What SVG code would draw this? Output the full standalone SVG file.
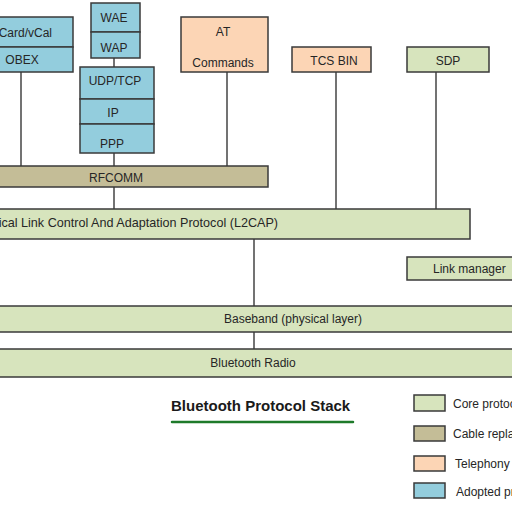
<svg xmlns="http://www.w3.org/2000/svg" width="512" height="512" viewBox="0 0 512 512">
<style>
.b{stroke:#3a3a3a;stroke-width:1.5}
.core{fill:#d7e4bd}.cable{fill:#c4bd97}.tel{fill:#fcd5b5}.adp{fill:#93cddd}
text{font-family:"Liberation Sans",Arial,sans-serif;font-size:12px;fill:#262626}
.c{text-anchor:middle}
.ln{stroke:#444;stroke-width:1.5;fill:none}
</style>
<rect width="512" height="512" fill="#fff"/>
<g id="connectors">
<line class="ln" x1="21" y1="72" x2="21" y2="166"/>
<line class="ln" x1="114" y1="58" x2="114" y2="67"/>
<line class="ln" x1="114" y1="153" x2="114" y2="166"/>
<line class="ln" x1="227" y1="72" x2="227" y2="166"/>
<line class="ln" x1="114" y1="187" x2="114" y2="209"/>
<line class="ln" x1="336" y1="72" x2="336" y2="209"/>
<line class="ln" x1="436" y1="72" x2="436" y2="209"/>
<line class="ln" x1="254" y1="239" x2="254" y2="306"/>
<line class="ln" x1="254" y1="332" x2="254" y2="349"/>
</g>
<g id="vcard-obex">
<rect class="b adp" x="-10" y="17" width="83" height="30"/>
<rect class="b adp" x="-10" y="47" width="83" height="25"/>
<text x="52" y="37" text-anchor="end">vCard/vCal</text>
<text class="c" x="22" y="64">OBEX</text>
</g>
<g id="wae-wap">
<rect class="b adp" x="91" y="3" width="49" height="29"/>
<rect class="b adp" x="91" y="32" width="49" height="26"/>
<text class="c" x="114" y="22">WAE</text>
<text class="c" x="114" y="52">WAP</text>
</g>
<g id="udp-ip-ppp">
<rect class="b adp" x="80" y="67" width="74" height="32"/>
<rect class="b adp" x="80" y="99" width="74" height="25"/>
<rect class="b adp" x="80" y="124" width="74" height="29"/>
<text class="c" x="115" y="85">UDP/TCP</text>
<text class="c" x="113" y="117">IP</text>
<text class="c" x="112" y="148">PPP</text>
</g>
<g id="at-commands">
<rect class="b tel" x="181" y="17" width="87" height="55"/>
<text class="c" x="223" y="36">AT</text>
<text class="c" x="223" y="67">Commands</text>
</g>
<g id="tcs-bin">
<rect class="b tel" x="292" y="47" width="79" height="25"/>
<text class="c" x="334" y="65">TCS BIN</text>
</g>
<g id="sdp">
<rect class="b core" x="407" y="47" width="82" height="25"/>
<text class="c" x="448" y="65">SDP</text>
</g>
<g id="rfcomm">
<rect class="b cable" x="-10" y="166" width="278" height="21"/>
<text class="c" x="116" y="182">RFCOMM</text>
</g>
<g id="l2cap">
<rect class="b core" x="-10" y="209" width="480" height="30"/>
<text x="278" y="227" text-anchor="end" style="font-size:12.6px">Logical Link Control And Adaptation Protocol (L2CAP)</text>
</g>
<g id="link-manager">
<rect class="b core" x="407" y="257" width="115" height="23"/>
<text x="433" y="273">Link manager</text>
</g>
<g id="baseband">
<rect class="b core" x="-10" y="306" width="532" height="26"/>
<text class="c" x="293" y="323">Baseband (physical layer)</text>
</g>
<g id="radio">
<rect class="b core" x="-10" y="349" width="532" height="28"/>
<text class="c" x="253" y="367">Bluetooth Radio</text>
</g>
<g id="title">
<text x="171" y="411" style="font-size:15px;font-weight:bold;fill:#1a1a1a">Bluetooth Protocol Stack</text>
<line x1="172" y1="422" x2="353" y2="422" stroke="#1e7a2a" stroke-width="2.5" stroke-linecap="round"/>
</g>
<g id="legend">
<rect class="b core" x="414" y="395" width="31" height="16"/>
<text x="453" y="408">Core protocols</text>
<rect class="b cable" x="414" y="426" width="31" height="15"/>
<text x="453" y="438">Cable replacement protocol</text>
<rect class="b tel" x="414" y="456" width="31" height="15"/>
<text x="455" y="468">Telephony control protocols</text>
<rect class="b adp" x="414" y="483" width="31" height="15"/>
<text x="456" y="496">Adopted protocols</text>
</g>
</svg>
